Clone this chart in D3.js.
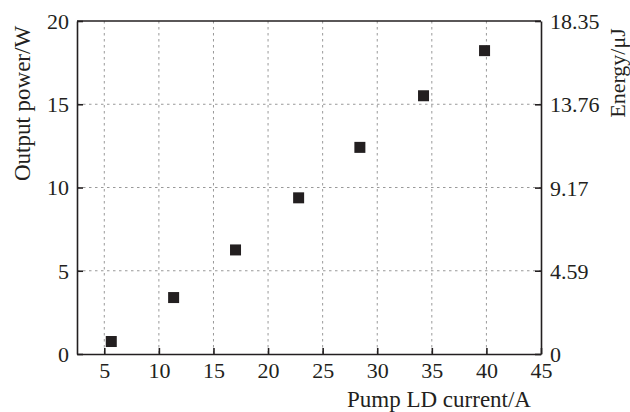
<!DOCTYPE html>
<html>
<head>
<meta charset="utf-8">
<script src="https://cdn.jsdelivr.net/npm/d3@7"></script>
<style>
  body { margin: 0; background: #fff; }
</style>
</head>
<body>
<svg width="630" height="412"></svg>
<script>
// data
const current = [5.64, 11.35, 17.02, 22.8, 28.41, 34.24, 39.83];
const power = [0.75, 3.39, 6.25, 9.38, 12.41, 15.51, 18.22];
const xTicks = [5, 10, 15, 20, 25, 30, 35, 40, 45];
const yTicks = [0, 5, 10, 15, 20];
const energyTicks = [0, 4.59, 9.17, 13.76, 18.35];

const serif = '"Liberation Serif", "Times New Roman", serif';
const ink = "#231f20";

const svg = d3.select("svg");
const plotLeft = 77, plotTop = 21, plotRight = 541, plotBottom = 354;

const x = d3.scaleLinear().domain([2.5, 45]).range([plotLeft, plotRight]);
const y = d3.scaleLinear().domain([0, 20]).range([plotBottom, plotTop]);
const yE = d3.scaleLinear().domain([0, 18.35]).range([plotBottom, plotTop]);

// grid
const grid = svg.append("g")
    .attr("stroke", "#999")
    .attr("stroke-width", 1)
    .attr("stroke-dasharray", "2.5,3.5");
grid.selectAll("line.v")
    .data(xTicks.filter(d => d < 45))
    .enter().append("line")
    .attr("x1", d => x(d)).attr("x2", d => x(d))
    .attr("y1", plotTop).attr("y2", plotBottom);
grid.selectAll("line.h")
    .data(yTicks.filter(d => d > 0 && d < 20))
    .enter().append("line")
    .attr("x1", plotLeft).attr("x2", plotRight)
    .attr("y1", d => y(d)).attr("y2", d => y(d));

// axes
const xAxis = svg.append("g")
    .attr("transform", "translate(0," + plotBottom + ")")
    .call(d3.axisBottom(x).tickValues(xTicks).tickSizeInner(-6).tickSizeOuter(0));
const yAxis = svg.append("g")
    .attr("transform", "translate(" + plotLeft + ",0)")
    .call(d3.axisLeft(y).tickValues(yTicks).tickSizeInner(-6).tickSizeOuter(0).tickPadding(8));
const eAxis = svg.append("g")
    .attr("transform", "translate(" + plotRight + ",0)")
    .call(d3.axisRight(yE).tickValues(energyTicks).tickFormat(d => d === 0 ? "0" : d3.format(".2f")(d))
        .tickSizeInner(-6).tickSizeOuter(0).tickPadding(9));

[xAxis, yAxis, eAxis].forEach(a => {
    a.attr("font-family", null).attr("font-size", null);
    a.select(".domain").attr("stroke", ink).attr("stroke-width", 1.6);
    a.selectAll(".tick line").attr("stroke", ink).attr("stroke-width", 1.6);
    a.selectAll("text")
        .style("font-family", serif)
        .style("font-size", "22px")
        .attr("fill", ink);
});
xAxis.selectAll(".tick text").attr("y", 24).attr("dy", 0);
yAxis.selectAll(".tick text").attr("dy", "0.34em");
eAxis.selectAll(".tick text").attr("dy", "0.34em");

// top frame line
svg.append("line")
    .attr("x1", plotLeft).attr("x2", plotRight)
    .attr("y1", plotTop).attr("y2", plotTop)
    .attr("stroke", ink).attr("stroke-width", 1.6);

// points
svg.selectAll("rect.pt")
    .data(current.map((c, i) => [c, power[i]]))
    .enter().append("rect")
    .attr("class", "pt")
    .attr("x", d => x(d[0]) - 5.5)
    .attr("y", d => y(d[1]) - 5.5)
    .attr("width", 11).attr("height", 11)
    .attr("fill", ink);

// titles
svg.append("text")
    .attr("x", 439)
    .attr("y", 407)
    .attr("text-anchor", "middle")
    .style("font-family", serif)
    .style("font-size", "23px")
    .attr("fill", ink)
    .text("Pump LD current/A");

svg.append("text")
    .attr("transform", "translate(30,103.5)rotate(-90)")
    .attr("text-anchor", "middle")
    .style("font-family", serif)
    .style("font-size", "23px")
    .attr("fill", ink)
    .text("Output power/W");

svg.append("text")
    .attr("transform", "translate(625,73)rotate(-90)")
    .attr("text-anchor", "middle")
    .style("font-family", serif)
    .style("font-size", "22px")
    .attr("fill", ink)
    .text("Energy/μJ");
</script>
</body>
</html>
